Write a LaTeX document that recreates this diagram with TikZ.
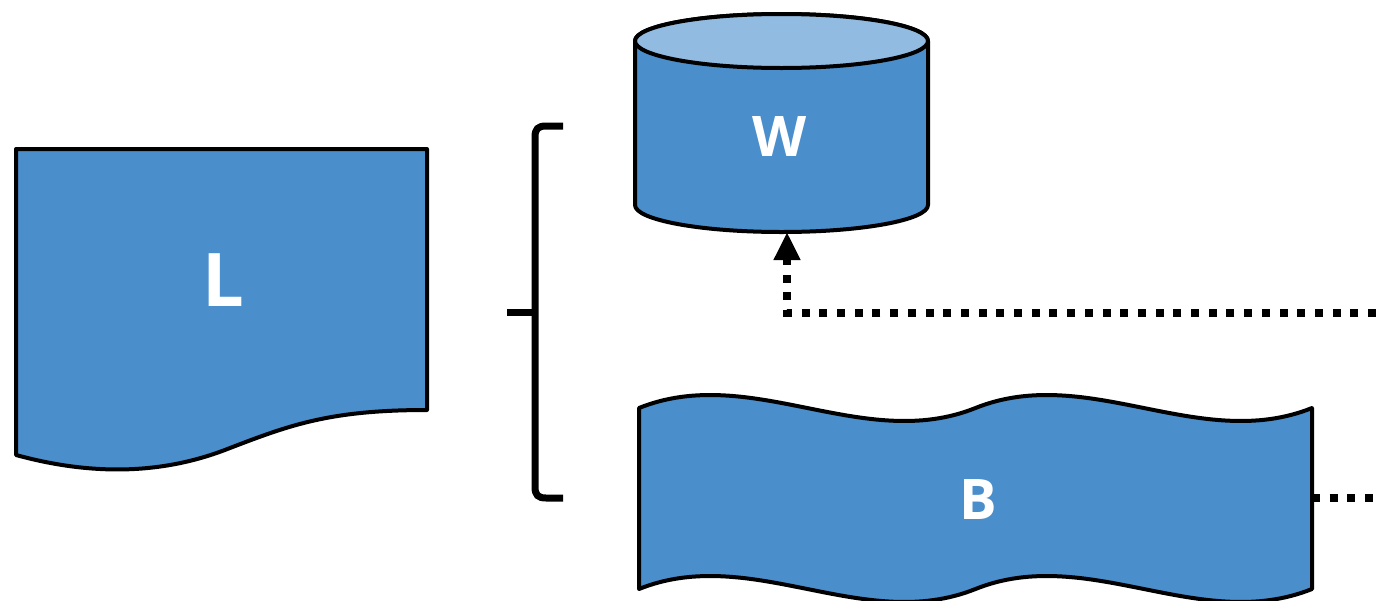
\documentclass[tikz,border=0pt]{standalone}
\usepackage{fontspec}
\setmainfont{Open Sans}
\usetikzlibrary{arrows.meta}
\definecolor{shapeblue}{RGB}{74,142,204}
\definecolor{lidblue}{RGB}{146,187,226}
\tikzset{
  outline/.style={draw=black, line width=4pt, fill=shapeblue, line join=round},
  label/.style={text=white, font=\bfseries\fontsize{56}{60}\selectfont, inner sep=0pt},
  bracket/.style={draw=black, line width=7pt},
  dotline/.style={draw=black, line width=7.5pt, dash pattern=on 8pt off 9.7pt},
}
\begin{document}
\begin{tikzpicture}[x=1pt, y=-1pt]
  \useasboundingbox (0,0) rectangle (1376,600);

  % document shape with wavy lower edge
  \path[outline] (16,149) -- (427,149) -- (427,410)
    .. controls (330,410) and (290,425) .. (230,448)
    .. controls (170,472) and (100,478) .. (16,455) -- cycle;
  \node[label, font=\bfseries\fontsize{74}{80}\selectfont] (L) at (223,280) {L};

  % cylinder (database)
  \path[outline] (635,41) -- (635,205)
    arc[start angle=180, end angle=360, x radius=146.5pt, y radius=27pt]
    -- (928,41)
    arc[start angle=0, end angle=180, x radius=146.5pt, y radius=27pt] -- cycle;
  \path[outline, fill=lidblue] (781.5,41) ellipse [x radius=146.5pt, y radius=27pt];
  \node[label] (W) at (780,137) {W};
  \coordinate (Wb) at (787,232);

  % double-wave shape: two S-waves on top, the same two waves below
  \path[outline] (639,408)
    .. controls (751.2,363) and (863.3,453) .. (975.5,408)
    .. controls (1087.7,363) and (1199.8,453) .. (1312,408)
    -- (1312,589)
    .. controls (1199.8,634) and (1087.7,544) .. (975.5,589)
    .. controls (863.3,634) and (751.2,544) .. (639,589) -- cycle;
  \node[label] (B) at (978,500) {B};
  \coordinate (Bout) at (1312,498);

  % bracket grouping
  \path[bracket] (563,126) -- (546,126)
    .. controls (538,126) and (535,129) .. (535,137)
    -- (535,487)
    .. controls (535,495) and (538,498) .. (546,498) -- (563,498);
  \path[bracket] (507,312) -- (535,312);

  % dotted connectors
  \coordinate (E1) at (1376,313);
  \coordinate (E2) at (1376,498);
  \draw[dotline, -{Triangle[width=25pt, length=28pt]}] (E1) -| (Wb);
  \draw[dotline] (Bout) -- (E2);
\end{tikzpicture}
\end{document}
